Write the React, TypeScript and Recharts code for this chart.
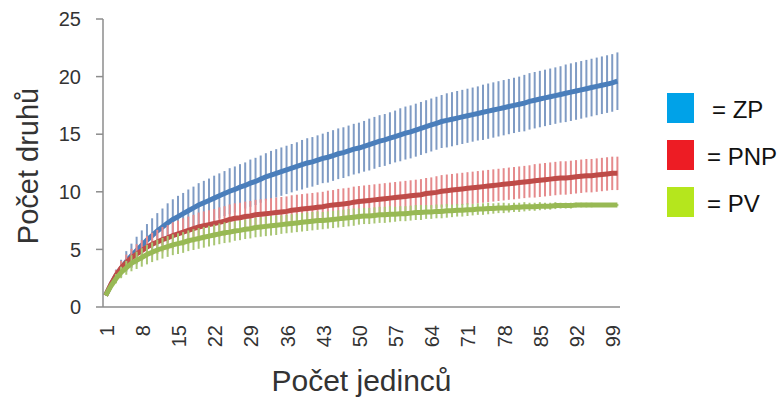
import React from 'react';
import { LineChart, Line, XAxis, YAxis, ErrorBar, Label } from 'recharts';

// Number of individuals (x categories)
const individuals: number[] = Array.from({ length: 100 }, (_, i) => i + 1);
const xTickLabels: number[] = [1, 8, 15, 22, 29, 36, 43, 50, 57, 64, 71, 78, 85, 92, 99];
const yTickLabels: number[] = [0, 5, 10, 15, 20, 25];

// ZP (blue)
const zp: number[] = [
  1.0, 1.9, 2.7, 3.35, 3.95, 4.45, 4.9, 5.35, 5.8, 6.2,
  6.6, 6.95, 7.3, 7.6, 7.85, 8.1, 8.35, 8.6, 8.85, 9.05,
  9.25, 9.45, 9.65, 9.85, 10.05, 10.2, 10.4, 10.55, 10.75, 10.9,
  11.1, 11.3, 11.45, 11.6, 11.75, 11.9, 12.05, 12.2, 12.35, 12.5,
  12.6, 12.75, 12.9, 13.0, 13.15, 13.3, 13.4, 13.55, 13.7, 13.8,
  13.95, 14.1, 14.25, 14.4, 14.5, 14.65, 14.8, 14.95, 15.1, 15.2,
  15.35, 15.5, 15.65, 15.8, 15.95, 16.1, 16.2, 16.3, 16.4, 16.5,
  16.6, 16.7, 16.8, 16.9, 17.0, 17.1, 17.2, 17.3, 17.4, 17.5,
  17.6, 17.7, 17.85, 17.95, 18.05, 18.15, 18.25, 18.35, 18.45, 18.55,
  18.65, 18.75, 18.85, 18.95, 19.05, 19.15, 19.25, 19.35, 19.45, 19.6,
];
const zpErr: number[] = [
  0, 0.3, 0.55, 0.75, 0.9, 1.05, 1.2, 1.3, 1.4, 1.5,
  1.55, 1.6, 1.7, 1.75, 1.8, 1.8, 1.85, 1.85, 1.9, 1.9,
  1.9, 1.95, 1.95, 1.95, 2.0, 2.0, 2.0, 2.0, 2.05, 2.05,
  2.05, 2.05, 2.1, 2.1, 2.1, 2.1, 2.1, 2.1, 2.15, 2.15,
  2.15, 2.15, 2.15, 2.2, 2.2, 2.2, 2.2, 2.2, 2.2, 2.2,
  2.2, 2.25, 2.25, 2.25, 2.25, 2.25, 2.25, 2.3, 2.3, 2.3,
  2.3, 2.3, 2.3, 2.3, 2.3, 2.3, 2.35, 2.35, 2.35, 2.35,
  2.35, 2.35, 2.35, 2.4, 2.4, 2.4, 2.4, 2.4, 2.4, 2.4,
  2.4, 2.45, 2.45, 2.45, 2.45, 2.45, 2.45, 2.45, 2.45, 2.5,
  2.5, 2.5, 2.5, 2.5, 2.5, 2.5, 2.5, 2.5, 2.5, 2.5,
];

// PNP (red)
const pnp: number[] = [
  1.0, 1.95, 2.75, 3.4, 3.85, 4.25, 4.6, 4.9, 5.2, 5.45,
  5.65, 5.85, 6.0, 6.2, 6.35, 6.5, 6.65, 6.8, 6.95, 7.05,
  7.15, 7.25, 7.35, 7.45, 7.6, 7.7, 7.75, 7.85, 7.9, 8.0,
  8.05, 8.1, 8.15, 8.2, 8.25, 8.3, 8.4, 8.45, 8.5, 8.55,
  8.6, 8.65, 8.7, 8.8, 8.85, 8.9, 8.95, 9.0, 9.1, 9.15,
  9.2, 9.25, 9.3, 9.35, 9.4, 9.45, 9.5, 9.55, 9.6, 9.65,
  9.7, 9.75, 9.85, 9.9, 9.95, 10.05, 10.1, 10.15, 10.2, 10.25,
  10.3, 10.35, 10.4, 10.45, 10.5, 10.55, 10.6, 10.65, 10.7, 10.75,
  10.8, 10.85, 10.9, 10.95, 11.0, 11.05, 11.1, 11.15, 11.2, 11.2,
  11.25, 11.3, 11.35, 11.4, 11.4, 11.45, 11.5, 11.55, 11.6, 11.6,
];
const pnpErr: number[] = [
  0, 0.25, 0.45, 0.6, 0.7, 0.8, 0.85, 0.9, 0.95, 1.0,
  1.05, 1.1, 1.1, 1.15, 1.15, 1.2, 1.2, 1.2, 1.25, 1.25,
  1.25, 1.25, 1.3, 1.3, 1.3, 1.3, 1.3, 1.3, 1.3, 1.3,
  1.3, 1.3, 1.3, 1.3, 1.3, 1.3, 1.3, 1.3, 1.3, 1.3,
  1.3, 1.3, 1.3, 1.3, 1.3, 1.35, 1.35, 1.35, 1.35, 1.35,
  1.35, 1.35, 1.35, 1.35, 1.35, 1.35, 1.35, 1.35, 1.35, 1.35,
  1.35, 1.35, 1.35, 1.35, 1.4, 1.4, 1.4, 1.4, 1.4, 1.4,
  1.4, 1.4, 1.4, 1.4, 1.4, 1.4, 1.4, 1.4, 1.4, 1.4,
  1.4, 1.4, 1.4, 1.45, 1.45, 1.45, 1.45, 1.45, 1.45, 1.45,
  1.45, 1.45, 1.45, 1.45, 1.45, 1.45, 1.45, 1.45, 1.45, 1.45,
];

// PV (green)
const pv: number[] = [
  1.0, 1.8, 2.45, 3.0, 3.4, 3.8, 4.05, 4.3, 4.55, 4.75,
  4.95, 5.1, 5.25, 5.4, 5.5, 5.6, 5.75, 5.85, 5.95, 6.05,
  6.15, 6.25, 6.35, 6.45, 6.5, 6.6, 6.65, 6.75, 6.8, 6.9,
  6.95, 7.0, 7.05, 7.1, 7.15, 7.2, 7.25, 7.3, 7.35, 7.4,
  7.45, 7.5, 7.5, 7.55, 7.6, 7.65, 7.7, 7.75, 7.8, 7.85,
  7.9, 7.9, 7.95, 8.0, 8.0, 8.05, 8.05, 8.1, 8.1, 8.15,
  8.2, 8.2, 8.25, 8.25, 8.3, 8.3, 8.35, 8.35, 8.4, 8.4,
  8.45, 8.45, 8.5, 8.5, 8.55, 8.55, 8.6, 8.6, 8.6, 8.65,
  8.65, 8.7, 8.7, 8.7, 8.75, 8.75, 8.75, 8.8, 8.8, 8.8,
  8.8, 8.85, 8.85, 8.85, 8.85, 8.85, 8.85, 8.85, 8.85, 8.85,
];
const pvErr: number[] = [
  0, 0.25, 0.4, 0.5, 0.6, 0.7, 0.75, 0.8, 0.85, 0.85,
  0.9, 0.9, 0.9, 0.9, 0.9, 0.9, 0.9, 0.9, 0.9, 0.9,
  0.9, 0.9, 0.9, 0.9, 0.9, 0.85, 0.85, 0.85, 0.85, 0.85,
  0.85, 0.85, 0.85, 0.85, 0.8, 0.8, 0.8, 0.8, 0.8, 0.8,
  0.8, 0.8, 0.75, 0.75, 0.75, 0.75, 0.75, 0.75, 0.75, 0.7,
  0.7, 0.7, 0.7, 0.7, 0.7, 0.7, 0.65, 0.65, 0.65, 0.65,
  0.65, 0.65, 0.6, 0.6, 0.6, 0.6, 0.6, 0.55, 0.55, 0.55,
  0.55, 0.5, 0.5, 0.5, 0.5, 0.45, 0.45, 0.45, 0.4, 0.4,
  0.4, 0.4, 0.35, 0.35, 0.35, 0.3, 0.3, 0.3, 0.25, 0.25,
  0.25, 0.2, 0.2, 0.2, 0.2, 0.15, 0.15, 0.15, 0.1, 0.1,
];

const seriesNames = ['ZP', 'PNP', 'PV'];
const legendColors = ['#00a2e8', '#ed1c24', '#b5e61d'];

const data = individuals.map((n, i) => ({
  n,
  zp: zp[i],
  zpErr: zpErr[i],
  pnp: pnp[i],
  pnpErr: pnpErr[i],
  pv: pv[i],
  pvErr: pvErr[i],
}));

const FONT = '"Liberation Sans", Arial, sans-serif';
const AXIS = '#8c8c8c';
const TXT = '#333333';

const XTick = (props: any) => {
  const { x, y, payload } = props;
  const cx = x + 1;
  return (
    <text
      x={cx}
      y={y}
      transform={`rotate(-90 ${cx} ${y})`}
      textAnchor="end"
      dominantBaseline="central"
      fontSize={20}
      fontFamily={FONT}
      fill={TXT}
    >
      {payload.value}
    </text>
  );
};

export default function App() {
  return (
    <div style={{ position: 'absolute', left: 0, top: 0, width: 782, height: 398, background: '#fff' }}>
      <LineChart
        width={782}
        height={398}
        data={data}
        margin={{ top: 19, right: 162, left: 0, bottom: 0 }}
      >
        <XAxis
          dataKey="n"
          type="category"
          ticks={xTickLabels}
          interval={0}
          height={91}
          padding={{ left: 2.6, right: 2.6 }}
          tickLine={false}
          tickSize={0}
          tickMargin={18}
          axisLine={{ stroke: AXIS, strokeWidth: 1.5 }}
          tick={<XTick />}
        >
          <Label
            content={(p: any) => {
              const vb = p.viewBox || { x: 103, y: 307, width: 517, height: 91 };
              return (
                <text
                  x={vb.x + vb.width / 2}
                  y={vb.y + vb.height - 7}
                  textAnchor="middle"
                  fontSize={30}
                  fontFamily={FONT}
                  fill={TXT}
                >
                  Počet jedinců
                </text>
              );
            }}
          />
        </XAxis>
        <YAxis
          type="number"
          domain={[0, 25]}
          ticks={yTickLabels}
          width={103}
          tickSize={7}
          tickMargin={15}
          axisLine={{ stroke: AXIS, strokeWidth: 1.5 }}
          tickLine={{ stroke: AXIS, strokeWidth: 1.5 }}
          tick={{ fontSize: 20, fill: TXT, fontFamily: FONT }}
        >
          <Label
            content={(p: any) => {
              const vb = p.viewBox || { x: 0, y: 19, width: 103, height: 288 };
              const cx = 38;
              const cy = vb.y + vb.height / 2 + 3;
              return (
                <text
                  x={cx}
                  y={cy}
                  transform={`rotate(-90 ${cx} ${cy})`}
                  textAnchor="middle"
                  fontSize={29}
                  fontFamily={FONT}
                  fill={TXT}
                >
                  Počet druhů
                </text>
              );
            }}
          />
        </YAxis>

        <Line dataKey="zp" stroke="none" dot={false} activeDot={false} isAnimationActive={false} legendType="none">
          <ErrorBar dataKey="zpErr" width={0} stroke="#7f9bc4" strokeWidth={2} direction="y" isAnimationActive={false} />
        </Line>
        <Line dataKey="zp" stroke="#4a7ebb" strokeWidth={5} dot={false} activeDot={false} isAnimationActive={false} />

        <Line dataKey="pnp" stroke="none" dot={false} activeDot={false} isAnimationActive={false} legendType="none">
          <ErrorBar dataKey="pnpErr" width={0} stroke="#e58a8c" strokeWidth={2} direction="y" isAnimationActive={false} />
        </Line>
        <Line dataKey="pnp" stroke="#be4b48" strokeWidth={5} dot={false} activeDot={false} isAnimationActive={false} />

        <Line dataKey="pv" stroke="none" dot={false} activeDot={false} isAnimationActive={false} legendType="none">
          <ErrorBar dataKey="pvErr" width={0} stroke="#a9c674" strokeWidth={2} direction="y" isAnimationActive={false} />
        </Line>
        <Line dataKey="pv" stroke="#98b954" strokeWidth={5} dot={false} activeDot={false} isAnimationActive={false} />
      </LineChart>

      <div style={{ position: 'absolute', left: 667, top: 93, fontFamily: FONT }}>
        {seriesNames.map((name, i) => (
          <div key={name} style={{ display: 'flex', alignItems: 'center', height: 30, marginBottom: 17 }}>
            <div style={{ width: 27, height: 30, background: legendColors[i], flex: 'none' }} />
            <span style={{ marginLeft: i === 0 ? 18 : 13, fontSize: 24, color: '#111', lineHeight: '30px', paddingTop: 4 }}>
              = {name}
            </span>
          </div>
        ))}
      </div>
    </div>
  );
}
